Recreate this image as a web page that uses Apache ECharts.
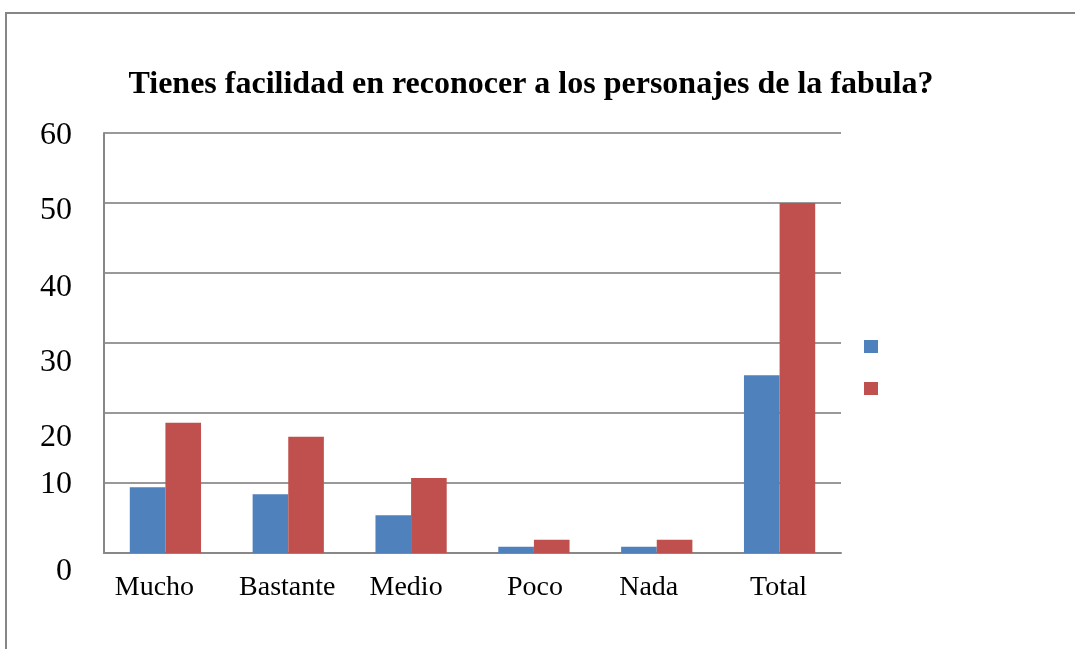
<!DOCTYPE html>
<html>
<head>
<meta charset="utf-8">
<script src="https://cdn.jsdelivr.net/npm/echarts@6/dist/echarts.min.js"></script>
<style>
  html, body { margin: 0; padding: 0; background: #fff; }
  #chart { width: 1075px; height: 649px; }
</style>
</head>
<body>
<div id="chart"></div>
<script>
// categorias y valores
var categorias = ["Mucho", "Bastante", "Medio", "Poco", "Nada", "Total"];
var serie1 = [9.4, 8.4, 5.4, 0.9, 0.9, 25.4];
var serie2 = [18.6, 16.6, 10.7, 1.9, 1.9, 50];
var ticksY = [0, 10, 20, 30, 40, 50, 60];

// pequeños desplazamientos de las etiquetas como en el original
var desplY = { 0: 19, 10: 2, 20: 25, 30: 20, 40: 15, 50: 8, 60: 3 };
var desplX = [-11, -1, -5, 1, -8, -1];

var richY = {};
ticksY.forEach(function (v) {
  var d = desplY[v] || 0;
  richY["y" + v] = {
    fontSize: 32,
    fontFamily: "Liberation Serif",
    color: "#000",
    padding: [2 * d, 0, 0, 0],
  };
});
var richX = {};
desplX.forEach(function (d, i) {
  richX["x" + i] = {
    fontSize: 28,
    fontFamily: "Liberation Serif",
    color: "#000",
    padding: d < 0 ? [0, -2 * d, 0, 0] : [0, 0, 0, 2 * d],
  };
});

var myChart = echarts.init(document.getElementById("chart"));
var option = {
  animation: false,
  textStyle: { fontFamily: "Liberation Serif" },
  title: {
    text: "Tienes facilidad en reconocer a los personajes de la fabula?",
    left: 526,
    textAlign: "center",
    top: 64,
    textStyle: {
      fontFamily: "Liberation Serif",
      fontSize: 32,
      fontWeight: "bold",
      color: "#000",
    },
  },
  legend: {
    orient: "vertical",
    left: 859,
    top: 335,
    itemWidth: 14,
    itemHeight: 13,
    itemGap: 29,
    icon: "rect",
    data: ["Serie1", "Serie2"],
    formatter: function () {
      return "";
    },
  },
  grid: {
    left: 104,
    right: 234,
    top: 133,
    bottom: 96,
  },
  xAxis: {
    type: "category",
    data: categorias,
    axisLine: { lineStyle: { color: "#888", width: 2 } },
    axisTick: { show: false },
    axisLabel: {
      interval: 0,
      color: "#000",
      fontSize: 28,
      margin: 21,
      fontFamily: "Liberation Serif",
      formatter: function (value, index) {
        return "{x" + index + "|" + value + "}";
      },
      rich: richX,
    },
  },
  yAxis: {
    type: "value",
    min: ticksY[0],
    max: ticksY[ticksY.length - 1],
    interval: 10,
    axisLine: { show: true, lineStyle: { color: "#888", width: 2 } },
    axisTick: { show: false },
    splitLine: { lineStyle: { color: "#999", width: 2 } },
    axisLabel: {
      color: "#000",
      fontSize: 32,
      margin: 32,
      fontFamily: "Liberation Serif",
      formatter: function (v) {
        return ticksY.indexOf(v) >= 0 ? "{y" + v + "|" + v + "}" : "";
      },
      rich: richY,
    },
  },
  series: [
    {
      name: "Serie1",
      type: "bar",
      data: serie1,
      barGap: "0%",
      barCategoryGap: "42%",
      itemStyle: { color: "#4F81BD" },
    },
    {
      name: "Serie2",
      type: "bar",
      data: serie2,
      itemStyle: { color: "#C0504D" },
    },
  ],
  graphic: [
    {
      type: "rect",
      shape: { x: 6, y: 13, width: 1100, height: 700 },
      style: { fill: "none", stroke: "#868686", lineWidth: 2 },
      silent: true,
    },
  ],
};

option && myChart.setOption(option);
</script>
</body>
</html>
